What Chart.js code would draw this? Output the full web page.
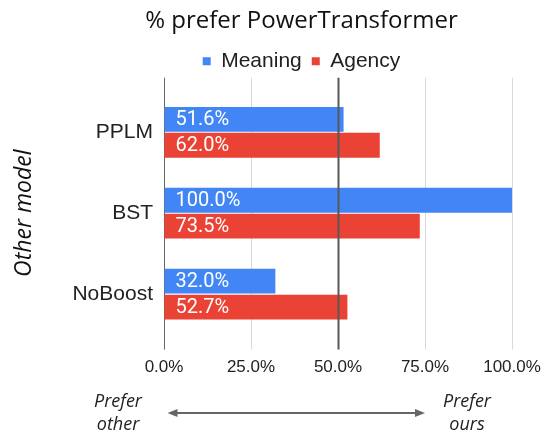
<!DOCTYPE html>
<html lang="en">
<head>
    <meta charset="UTF-8">
    <title>% prefer PowerTransformer</title>
    <style>
        html, body {
            margin: 0;
            padding: 0;
            background-color: #ffffff;
        }

        .chart-box {
            width: 550px;
            height: 432px;
        }
    </style>
    <script src="https://cdn.jsdelivr.net/npm/chart.js"></script>
</head>
<body>
    <div class="chart-box">
        <canvas id="preferChart"></canvas>
    </div>

    <script>
        // Values
        const models = ['PPLM', 'BST', 'NoBoost'];
        const meaningValues = [51.6, 100.0, 32.0];
        const agencyValues = [62.0, 73.5, 52.7];
        const xTicks = [0, 25, 50, 75, 100];

        const blue = '#4285f4';
        const red = '#ea4335';

        // White value labels sitting at the start of each bar
        const barLabels = {
            id: 'barLabels',
            afterDatasetsDraw(chart) {
                const ctx = chart.ctx;
                ctx.save();
                ctx.font = '20px Roboto';
                ctx.fillStyle = '#ffffff';
                ctx.textAlign = 'left';
                ctx.textBaseline = 'middle';
                chart.data.datasets.forEach((ds, i) => {
                    chart.getDatasetMeta(i).data.forEach((bar, j) => {
                        ctx.fillText(ds.data[j].toFixed(1) + '%', bar.base + 11, bar.y + 1);
                    });
                });
                ctx.restore();
            }
        };

        // Dark 50% reference line over the bars, plus the "prefer" arrow below
        const midLine = {
            id: 'midLine',
            afterDatasetsDraw(chart) {
                const ctx = chart.ctx;
                const x = chart.scales.x;
                const area = chart.chartArea;
                const px = Math.round(x.getPixelForValue(50)) + 0.5;
                ctx.save();
                ctx.strokeStyle = '#595959';
                ctx.lineWidth = 2;
                ctx.beginPath();
                ctx.moveTo(px, area.top - 14);
                ctx.lineTo(px, area.bottom + 15);
                ctx.stroke();
                ctx.restore();
            },
            afterDraw(chart) {
                const ctx = chart.ctx;
                const x = chart.scales.x;
                const x0 = x.getPixelForValue(1);
                const x1 = x.getPixelForValue(75);
                const ay = 413;
                ctx.save();
                ctx.strokeStyle = '#666666';
                ctx.fillStyle = '#666666';
                ctx.lineWidth = 2;
                ctx.beginPath();
                ctx.moveTo(x0 + 8, ay);
                ctx.lineTo(x1 - 8, ay);
                ctx.stroke();
                ctx.beginPath();
                ctx.moveTo(x0, ay);
                ctx.lineTo(x0 + 10, ay - 4);
                ctx.lineTo(x0 + 10, ay + 4);
                ctx.closePath();
                ctx.fill();
                ctx.beginPath();
                ctx.moveTo(x1, ay);
                ctx.lineTo(x1 - 10, ay - 4);
                ctx.lineTo(x1 - 10, ay + 4);
                ctx.closePath();
                ctx.fill();

                ctx.font = 'italic 18px "Open Sans"';
                ctx.fillStyle = '#222222';
                ctx.textAlign = 'center';
                ctx.textBaseline = 'alphabetic';
                const leftX = x.getPixelForValue(0) - 46;
                const rightX = x.getPixelForValue(75) + 42;
                ctx.fillText('Prefer', leftX, 407);
                ctx.fillText('other', leftX, 430);
                ctx.fillText('Prefer', rightX, 407);
                ctx.fillText('ours', rightX, 430);
                ctx.restore();
            }
        };

        const gridColor = c => (c.tick && c.tick.value === 0) ? '#666666' : '#d9d9d9';

        new Chart(document.getElementById('preferChart'), {
            type: 'bar',
            data: {
                labels: models,
                datasets: [
                    {
                        label: 'Meaning',
                        data: meaningValues,
                        backgroundColor: blue,
                        categoryPercentage: 0.64,
                        barPercentage: 0.96
                    },
                    {
                        label: 'Agency',
                        data: agencyValues,
                        backgroundColor: red,
                        categoryPercentage: 0.64,
                        barPercentage: 0.96
                    }
                ]
            },
            options: {
                indexAxis: 'y',
                responsive: true,
                maintainAspectRatio: false,
                animation: false,
                layout: {
                    padding: { left: 53, right: 0, top: 0, bottom: 46 }
                },
                plugins: {
                    title: {
                        display: true,
                        text: '% prefer PowerTransformer',
                        color: '#111111',
                        font: { family: 'Open Sans', size: 24, weight: 'normal' },
                        padding: { top: 7, bottom: 5 }
                    },
                    legend: {
                        position: 'top',
                        labels: {
                            color: '#222222',
                            font: { family: 'Liberation Sans', size: 21 },
                            boxWidth: 8,
                            boxHeight: 8,
                            padding: 10
                        }
                    },
                    tooltip: { enabled: false }
                },
                scales: {
                    x: {
                        position: 'bottom',
                        min: 0,
                        max: 100,
                        afterBuildTicks: scale => {
                            scale.ticks = xTicks.map(v => ({ value: v }));
                        },
                        afterFit: scale => {
                            scale.paddingRight = 38;
                        },
                        grid: {
                            color: gridColor,
                            tickColor: gridColor,
                            tickLength: 15
                        },
                        border: { display: false },
                        ticks: {
                            color: '#222222',
                            font: { family: 'Liberation Sans', size: 17 },
                            padding: 8,
                            maxRotation: 0,
                            callback: v => v.toFixed(1) + '%'
                        }
                    },
                    xTop: {
                        axis: 'x',
                        position: 'top',
                        min: 0,
                        max: 100,
                        afterBuildTicks: scale => {
                            scale.ticks = xTicks.map(v => ({ value: v }));
                        },
                        afterFit: scale => {
                            scale.height = 10;
                        },
                        grid: {
                            drawOnChartArea: false,
                            color: gridColor,
                            tickColor: gridColor,
                            tickLength: 14
                        },
                        border: { display: false },
                        ticks: { display: false }
                    },
                    y: {
                        afterFit: scale => {
                            scale.width = 111;
                        },
                        grid: { display: false },
                        border: { display: false },
                        ticks: {
                            color: '#222222',
                            font: { family: 'Liberation Sans', size: 21 },
                            padding: 3
                        },
                        title: {
                            display: true,
                            text: 'Other model',
                            color: '#111111',
                            font: { family: 'Open Sans', size: 23, style: 'italic' },
                            padding: { top: -42, bottom: 0 }
                        }
                    }
                }
            },
            plugins: [barLabels, midLine]
        });
    </script>
</body>
</html>
